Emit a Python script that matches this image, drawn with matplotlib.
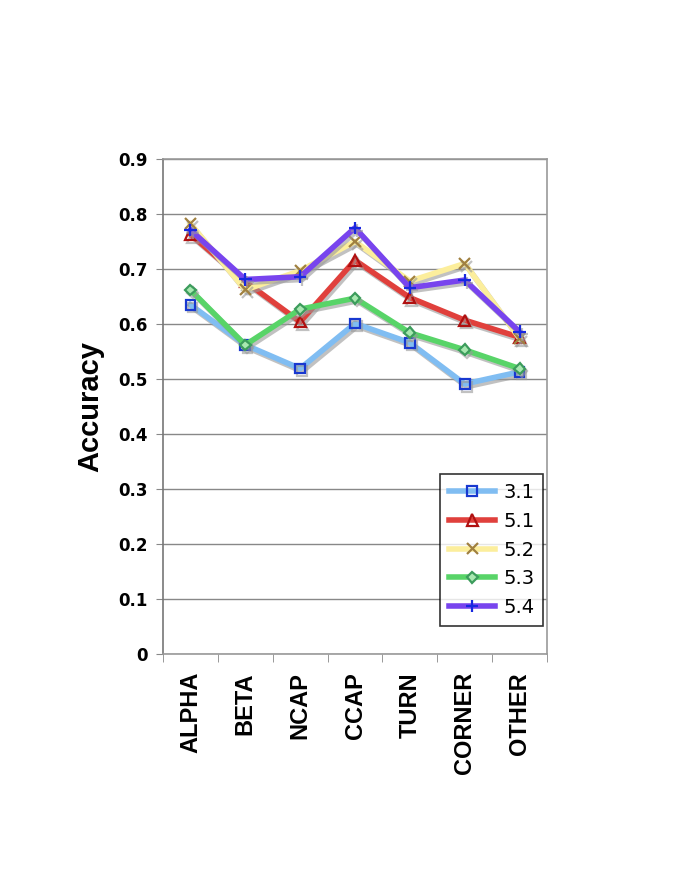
import matplotlib
matplotlib.use("Agg")
import matplotlib.pyplot as plt
import matplotlib.patheffects as pe
from matplotlib.ticker import FixedLocator, NullFormatter

categories = ["ALPHA", "BETA", "NCAP", "CCAP", "TURN", "CORNER", "OTHER"]
series_names = ["3.1", "5.1", "5.2", "5.3", "5.4"]
acc_31 = [0.635, 0.562, 0.519, 0.601, 0.566, 0.491, 0.513]
acc_51 = [0.763, 0.677, 0.604, 0.716, 0.648, 0.607, 0.576]
acc_52 = [0.782, 0.662, 0.697, 0.750, 0.678, 0.710, 0.574]
acc_53 = [0.662, 0.562, 0.627, 0.647, 0.584, 0.553, 0.519]
acc_54 = [0.771, 0.681, 0.686, 0.775, 0.666, 0.680, 0.586]
y_ticks = [0, 0.1, 0.2, 0.3, 0.4, 0.5, 0.6, 0.7, 0.8, 0.9]
y_tick_labels = ["0", "0.1", "0.2", "0.3", "0.4", "0.5", "0.6", "0.7", "0.8", "0.9"]

# line colour, marker, marker size, marker edge, marker face
styles = [
    ("#80BDF2", "s", 7, "#1838D0", "none"),
    ("#E0403C", "^", 8, "#B01010", "none"),
    ("#FCEE9C", "x", 8, "#A08040", "none"),
    ("#58D468", "D", 5.5, "#3C9C5C", "#A8E8B0"),
    ("#7844EE", "+", 9, "#1828E0", "none"),
]
values = [acc_31, acc_51, acc_52, acc_53, acc_54]

fig = plt.figure(figsize=(6.85, 8.86), dpi=100)
ax = fig.add_axes([0.238, 0.2619, 0.5605, 0.5586])

x = list(range(len(categories)))
shadow = [pe.SimpleLineShadow(offset=(1.5, -2), shadow_color="#999999", alpha=0.6), pe.Normal()]
for name, vals, (lc, mk, ms, me, mf) in zip(series_names, values, styles):
    ax.plot(x, vals, color=lc, linewidth=4, marker=mk, markersize=ms,
            markeredgecolor=me, markerfacecolor=mf, markeredgewidth=1.6,
            label=name, path_effects=shadow, zorder=3)

ax.set_xlim(-0.5, len(categories) - 0.5)
ax.set_ylim(0, 0.9)
ax.set_yticks(y_ticks)
ax.set_yticklabels(y_tick_labels, fontsize=12, fontweight="bold")
ax.yaxis.grid(True, color="#888888", linewidth=1)
ax.set_axisbelow(True)

ax.set_xticks(x)
ax.set_xticklabels(categories, rotation=90, fontsize=17, fontweight="bold",
                   family="Liberation Sans")
ax.tick_params(axis="x", which="major", length=0, pad=13)
ax.xaxis.set_minor_locator(FixedLocator([i - 0.5 for i in range(len(categories) + 1)]))
ax.xaxis.set_minor_formatter(NullFormatter())
ax.tick_params(axis="x", which="minor", length=6, color="#888888", direction="out")
ax.tick_params(axis="y", length=5, color="#888888", direction="out", pad=6)

for side in ["top", "right", "bottom", "left"]:
    ax.spines[side].set_color("#999999")
    ax.spines[side].set_linewidth(1.2)
ax.spines["left"].set_color("#777777")

ax.set_ylabel("Accuracy", fontsize=21, fontweight="bold", family="Liberation Sans",
              labelpad=10)

leg = ax.legend(loc="lower right", bbox_to_anchor=(0.99, 0.057), fontsize=14,
                frameon=True, fancybox=False, handlelength=2.4, borderpad=0.45,
                labelspacing=0.5, handletextpad=0.4, borderaxespad=0)
leg.get_frame().set_edgecolor("black")
leg.get_frame().set_linewidth(1.2)
for line in leg.get_lines():
    line.set_path_effects([pe.Normal()])
    line.set_linewidth(4)

fig.savefig("out.png", dpi=100)
